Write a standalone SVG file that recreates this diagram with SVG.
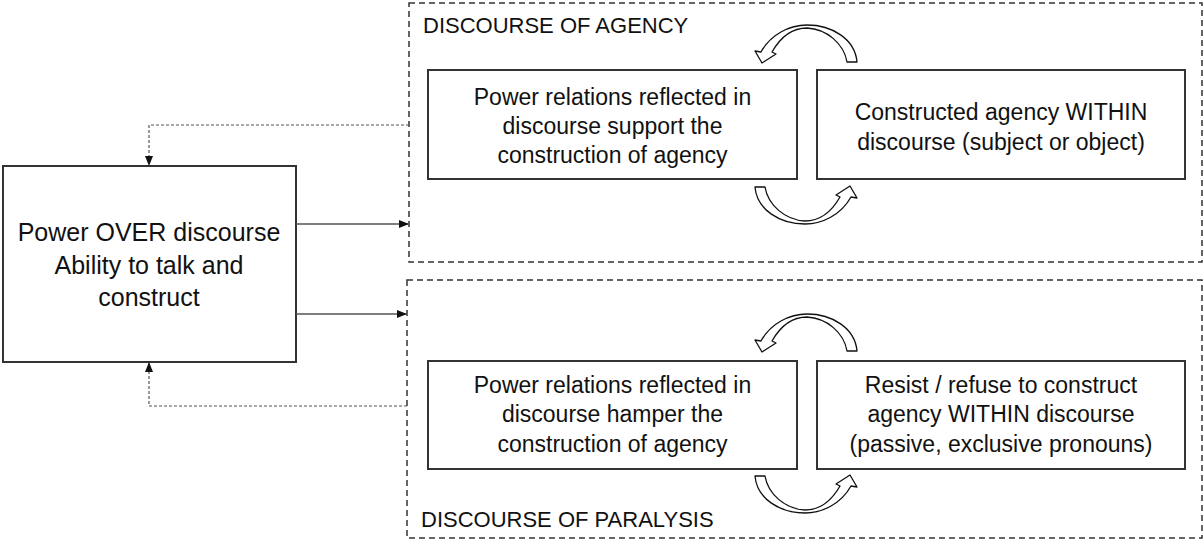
<svg xmlns="http://www.w3.org/2000/svg" width="1204" height="540" viewBox="0 0 1204 540">
<style>
text{font-family:"Liberation Sans",Arial,sans-serif;fill:#111;}
.big{font-size:25px;text-anchor:middle;}
.mid{font-size:23px;text-anchor:middle;}
.ttl{font-size:22px;}
.box{fill:#fff;stroke:#333;stroke-width:2;}
.cont{fill:none;stroke:#333;stroke-width:1.5;stroke-dasharray:6 4;}
.conn{fill:none;stroke:#555;stroke-width:1.3;}
.fb{fill:none;stroke:#555;stroke-width:1.2;stroke-dasharray:3 2;}
.barrow{fill:#fff;stroke:#111;stroke-width:1.3;stroke-linejoin:round;}
</style>
<defs>
<marker id="ah" markerWidth="10" markerHeight="10" refX="9" refY="5" orient="auto" markerUnits="userSpaceOnUse">
<path d="M0,1 L10,5 L0,9 Z" fill="#111"/>
</marker>
<path id="uarrow" d="M755,187 L765,187 C768,205 785,220 805,221 C820,221 832,211 840,197 L836,195 L850,186 L857,198 L851,197 C841,215 822,224 805,224 C780,224 757,210 755,187 Z"/>
</defs>
<g id="container-agency">
<rect class="cont" x="409" y="3" width="793" height="259"/>
<text class="ttl" x="423" y="33">DISCOURSE OF AGENCY</text>
</g>
<g id="container-paralysis">
<rect class="cont" x="407" y="280" width="795" height="258"/>
<text class="ttl" x="421" y="527">DISCOURSE OF PARALYSIS</text>
</g>
<g id="power-over">
<rect class="box" x="3" y="166" width="293" height="196"/>
<text class="big" x="149" y="241">Power OVER discourse</text>
<text class="big" x="149" y="274">Ability to talk and</text>
<text class="big" x="149" y="306">construct</text>
</g>
<g id="power-support">
<rect class="box" x="428" y="70" width="369" height="109"/>
<text class="mid" x="612.5" y="105">Power relations reflected in</text>
<text class="mid" x="612.5" y="134">discourse support the</text>
<text class="mid" x="612.5" y="163">construction of agency</text>
</g>
<g id="constructed-agency">
<rect class="box" x="817" y="70" width="368" height="109"/>
<text class="mid" x="1001" y="120">Constructed agency WITHIN</text>
<text class="mid" x="1001" y="150">discourse (subject or object)</text>
</g>
<g id="power-hamper">
<rect class="box" x="428" y="361" width="369" height="108"/>
<text class="mid" x="612.5" y="393">Power relations reflected in</text>
<text class="mid" x="612.5" y="422">discourse hamper the</text>
<text class="mid" x="612.5" y="452">construction of agency</text>
</g>
<g id="resist-agency">
<rect class="box" x="817" y="361" width="368" height="108"/>
<text class="mid" x="1001" y="393">Resist / refuse to construct</text>
<text class="mid" x="1001" y="422">agency WITHIN discourse</text>
<text class="mid" x="1001" y="452">(passive, exclusive pronouns)</text>
</g>
<g id="connectors">
<line class="conn" x1="296" y1="224" x2="408" y2="224" marker-end="url(#ah)"/>
<line class="conn" x1="296" y1="314" x2="406" y2="314" marker-end="url(#ah)"/>
<polyline class="fb" points="409,125 149,125 149,165" marker-end="url(#ah)"/>
<polyline class="fb" points="407,406 149,406 149,363" marker-end="url(#ah)"/>
<use href="#uarrow" class="barrow"/>
<use href="#uarrow" class="barrow" transform="rotate(180 806 124.5)"/>
<g transform="translate(0 289)">
<use href="#uarrow" class="barrow"/>
<use href="#uarrow" class="barrow" transform="rotate(180 806 124.5)"/>
</g>
</g>
</svg>
